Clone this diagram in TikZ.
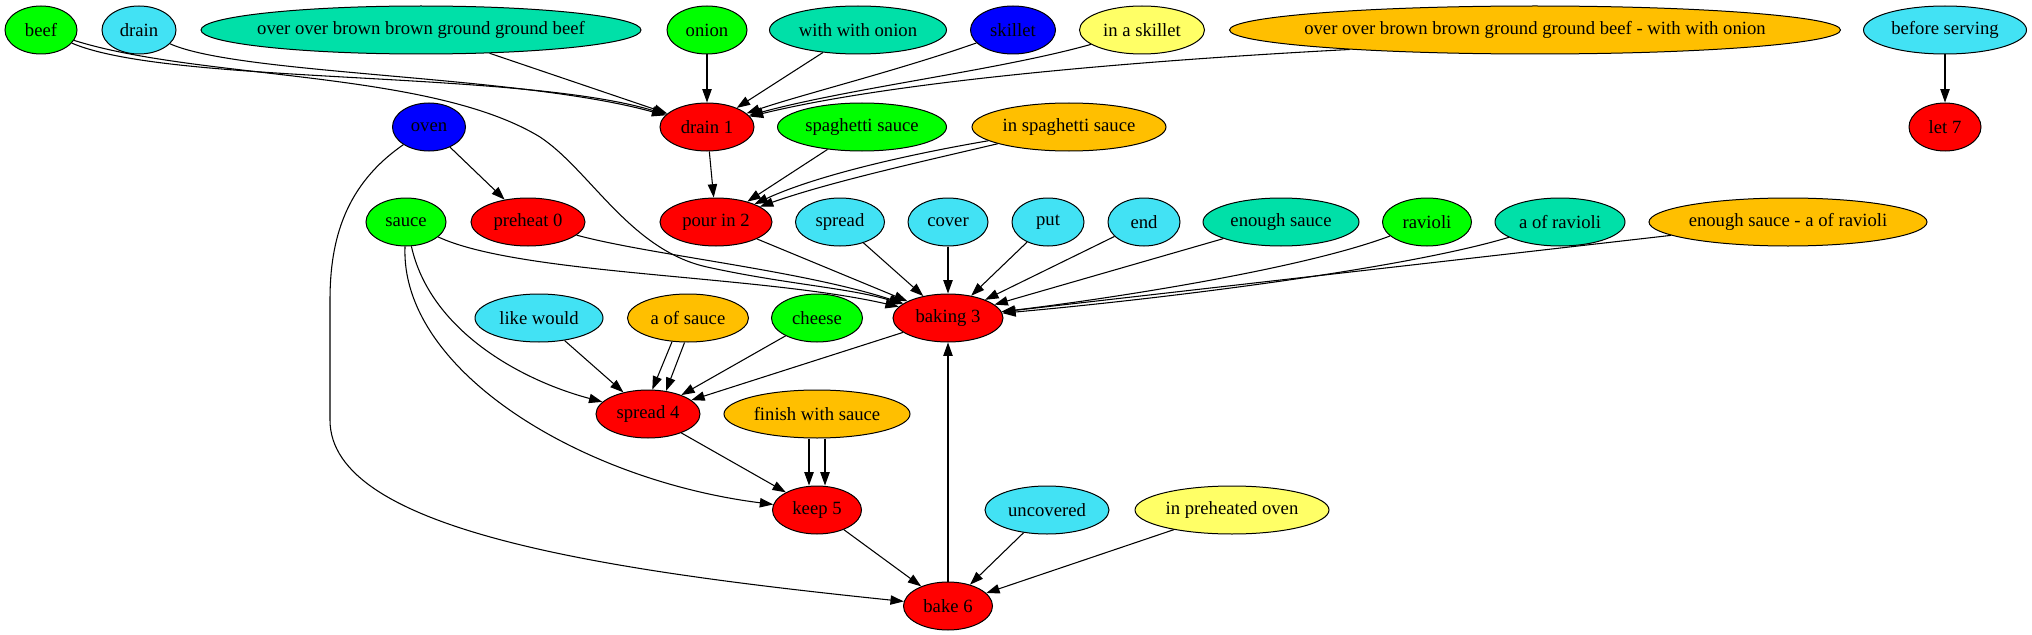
\documentclass[tikz,border=0pt]{standalone}
\usepackage{fontspec}
\setmainfont{Liberation Serif}
\usetikzlibrary{shapes.geometric,arrows.meta}
\definecolor{gvgreen}{HTML}{00FF00}
\definecolor{gvcyan}{HTML}{42E2F4}
\definecolor{gvteal}{HTML}{00E0A8}
\definecolor{gvorange}{HTML}{FFBF00}
\definecolor{gvyellow}{HTML}{FFFF66}
\definecolor{gvblue}{HTML}{0000FF}
\definecolor{gvred}{HTML}{FF0000}
\tikzset{
  gv/.style={ellipse, draw=black, line width=0.75pt, minimum height=36pt, inner sep=0pt,
    font=\fontsize{14}{16}\selectfont},
  cg/.style={gv, fill=gvgreen},
  cc/.style={gv, fill=gvcyan},
  ct/.style={gv, fill=gvteal},
  co/.style={gv, fill=gvorange},
  cy/.style={gv, fill=gvyellow},
  cb/.style={gv, fill=gvblue},
  cr/.style={gv, fill=gvred},
  e/.style={-{Triangle[length=10pt,width=7pt]}, line width=0.8pt, black},
}
\newcommand{\tx}[1]{\makebox[0pt]{#1}}
\begin{document}
\begin{tikzpicture}[x=0.75pt, y=-0.75pt]
\useasboundingbox (0,0) rectangle (2032,635);
% row 1
\node[cg, minimum width=54pt] (beef) at (41,30) {\tx{beef}};
\node[cc, minimum width=55.5pt] (drain) at (139,30) {\tx{drain}};
\node[ct, minimum width=330pt] (ob) at (421,30) {\tx{over over brown brown ground ground beef}};
\node[cg, minimum width=60pt] (onion) at (707,30) {\tx{onion}};
\node[ct, minimum width=132.75pt] (wwo) at (858,30) {\tx{with with onion}};
\node[cb, minimum width=63.75pt] (skillet) at (1013,30) {\tx{skillet}};
\node[cy, minimum width=93.75pt] (inskillet) at (1142,30) {\tx{in a skillet}};
\node[co, minimum width=458.25pt] (obwo) at (1535,30) {\tx{over over brown brown ground ground beef - with with onion}};
\node[cc, minimum width=122.25pt] (before) at (1945,30) {\tx{before serving}};
% row 2
\node[cb, minimum width=54.75pt] (oven) at (429,127) {\tx{oven}};
\node[cr, minimum width=70.5pt] (drain1) at (707,127) {\tx{drain 1}};
\node[cg, minimum width=126.75pt] (spaghetti) at (862,127) {\tx{spaghetti sauce}};
\node[co, minimum width=145.5pt] (inspag) at (1069,127) {\tx{in spaghetti sauce}};
\node[cr, minimum width=54pt] (let7) at (1945,127) {\tx{let 7}};
% row 3
\node[cg, minimum width=60pt] (sauce) at (406,222) {\tx{sauce}};
\node[cr, minimum width=85.5pt] (preheat) at (528,222) {\tx{preheat 0}};
\node[cr, minimum width=84pt] (pour) at (716,222) {\tx{pour in 2}};
\node[cc, minimum width=66.75pt] (spread) at (840,222) {\tx{spread}};
\node[cc, minimum width=60pt] (cover) at (948,222) {\tx{cover}};
\node[cc, minimum width=54pt] (put) at (1048,222) {\tx{put}};
\node[cc, minimum width=54pt] (end) at (1144,222) {\tx{end}};
\node[ct, minimum width=117pt] (enough) at (1281,222) {\tx{enough sauce}};
\node[cg, minimum width=66.75pt] (ravioli) at (1427,222) {\tx{ravioli}};
\node[ct, minimum width=97.5pt] (aofravioli) at (1560,222) {\tx{a of ravioli}};
\node[co, minimum width=208.5pt] (esar) at (1788,222) {\tx{enough sauce - a of ravioli}};
% row 4
\node[cc, minimum width=96pt] (likewould) at (539,318) {\tx{like would}};
\node[co, minimum width=90.75pt] (aofsauce) at (688,318) {\tx{a of sauce}};
\node[cg, minimum width=68.25pt] (cheese) at (817,318) {\tx{cheese}};
\node[cr, minimum width=82.5pt] (baking) at (948,318) {\tx{baking 3}};
% row 5
\node[cr, minimum width=78pt] (spread4) at (648,414) {\tx{spread 4}};
\node[co, minimum width=139.5pt] (finish) at (817,414) {\tx{finish with sauce}};
% row 6
\node[cr, minimum width=66.75pt] (keep5) at (817,510) {\tx{keep 5}};
\node[cc, minimum width=93pt] (uncovered) at (1047,510) {\tx{uncovered}};
\node[cy, minimum width=145.5pt] (inpreheated) at (1232,510) {\tx{in preheated oven}};
% row 7
\node[cr, minimum width=66.75pt] (bake6) at (948,606) {\tx{bake 6}};

% edges into drain 1
\draw[e] (beef) .. controls (170,85) and (520,70) .. (drain1);
\draw[e] (drain) .. controls (240,75) and (520,75) .. (drain1);
\draw[e] (ob) -- (drain1);
\draw[e] (onion) -- (drain1);
\draw[e] (wwo) -- (drain1);
\draw[e] (skillet) .. controls (900,70) and (800,95) .. (drain1);
\draw[e] (inskillet) .. controls (1000,70) and (850,88) .. (drain1);
\draw[e] (obwo.186) .. controls (1150,60) and (900,80) .. (drain1);
% into pour in 2
\draw[e] (drain1) -- (pour);
\draw[e] (spaghetti) -- (pour);
\draw[e] (inspag) .. controls (920,162) and (830,182) .. (pour);
\draw[e] (inspag) .. controls (905,155) and (815,176) .. (pour);
% oven
\draw[e] (oven) -- (preheat);
\draw[e] (oven) .. controls (345,185) and (330,240) .. (330,300) -- (330,420) .. controls (330,530) and (600,570) .. (bake6);
% before serving
\draw[e] (before) -- (let7);
% into baking 3
\draw[e] (beef) .. controls (200,80) and (430,70) .. (540,137) .. controls (590,170) and (630,250) .. (707,267) .. controls (784,284) and (850,288) .. (baking);
\draw[e] (sauce) .. controls (520,275) and (760,275) .. (baking);
\draw[e] (preheat) .. controls (650,255) and (800,270) .. (baking);
\draw[e] (pour) -- (baking);
\draw[e] (spread) -- (baking);
\draw[e] (cover) -- (baking);
\draw[e] (put) -- (baking);
\draw[e] (end) -- (baking);
\draw[e] (enough) -- (baking);
\draw[e] (ravioli) .. controls (1300,270) and (1100,300) .. (baking);
\draw[e] (aofravioli) .. controls (1400,270) and (1150,300) .. (baking);
\draw[e] (esar) -- (baking);
\draw[e] (bake6) -- (baking);
% into spread 4
\draw[e] (baking) -- (spread4);
\draw[e] (sauce) .. controls (430,330) and (520,380) .. (spread4);
\draw[e] (likewould) -- (spread4);
\draw[e] (aofsauce.236) -- (spread4.80);
\draw[e] (aofsauce.262) -- (spread4.52);
\draw[e] (cheese) -- (spread4);
% into keep 5
\draw[e] (spread4) -- (keep5);
\draw[e] ([xshift=-6pt]finish.south) -- ([xshift=-6pt]keep5.north);
\draw[e] ([xshift=6pt]finish.south) -- ([xshift=6pt]keep5.north);
\draw[e] (sauce) .. controls (400,370) and (580,480) .. (keep5);
% into bake 6
\draw[e] (keep5) -- (bake6);
\draw[e] (uncovered) -- (bake6);
\draw[e] (inpreheated) -- (bake6);
\end{tikzpicture}
\end{document}
